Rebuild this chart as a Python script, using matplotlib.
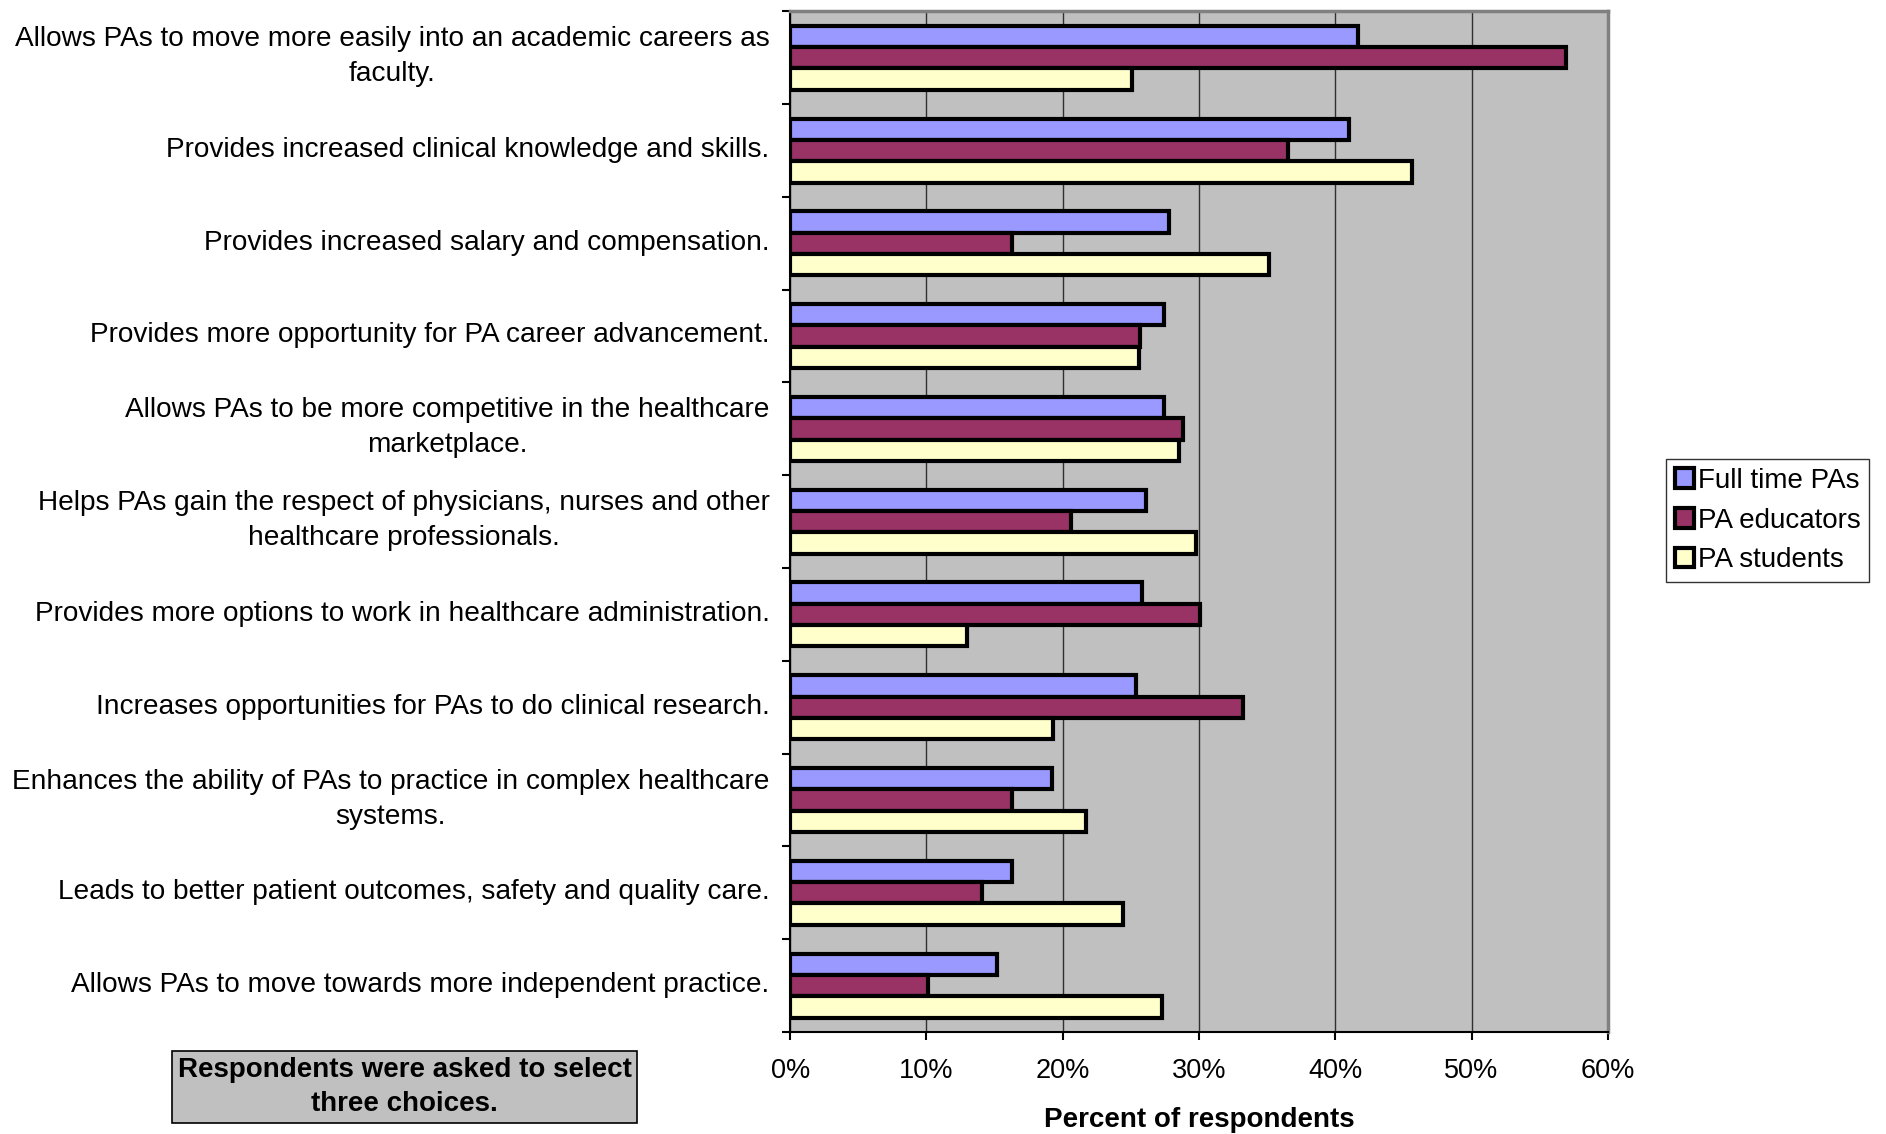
"""
plot.py

Perceived benefits of a doctoral degree for PAs, by respondent group.
Horizontal grouped bar chart in the old Excel style, saved to out.png.
"""

import matplotlib
matplotlib.use("Agg")
import matplotlib.pyplot as plt
import matplotlib.transforms as mtransforms
import numpy as np

OUT_PATH = "out.png"

# ---------------------------------------------------------------------------
# Data (fractions of respondents)
# ---------------------------------------------------------------------------

categories = [
    "Allows PAs to move more easily into an academic careers as\nfaculty.",
    "Provides increased clinical knowledge and skills.",
    "Provides increased salary and compensation.",
    "Provides more opportunity for PA career advancement.",
    "Allows PAs to be more competitive in the healthcare\nmarketplace.",
    "Helps PAs gain the respect of physicians, nurses and other\nhealthcare professionals.",
    "Provides more options to work in healthcare administration.",
    "Increases opportunities for PAs to do clinical research.",
    "Enhances the ability of PAs to practice in complex healthcare\nsystems.",
    "Leads to better patient outcomes, safety and quality care.",
    "Allows PAs to move towards more independent practice.",
]

full_time_pas = [0.417, 0.410, 0.278, 0.274, 0.274, 0.261, 0.258, 0.254, 0.192, 0.163, 0.152]
pa_educators = [0.569, 0.365, 0.163, 0.257, 0.288, 0.206, 0.301, 0.332, 0.163, 0.141, 0.101]
pa_students = [0.251, 0.456, 0.351, 0.256, 0.285, 0.298, 0.130, 0.193, 0.217, 0.244, 0.273]

series_names = ["Full time PAs", "PA educators", "PA students"]
x_ticks = [0.0, 0.1, 0.2, 0.3, 0.4, 0.5, 0.6]
x_tick_labels = ["0%", "10%", "20%", "30%", "40%", "50%", "60%"]

COLORS = ["#9999FF", "#993366", "#FFFFCC"]
PLOT_BG = "#C0C0C0"
FONT = ["Liberation Sans", "DejaVu Sans"]

# ---------------------------------------------------------------------------
# Figure
# ---------------------------------------------------------------------------

plt.rcParams["font.family"] = FONT

fig = plt.figure(figsize=(18.86, 11.34), dpi=100)
ax = fig.add_axes([0.419, 0.090, 0.4335, 0.900])
ax.set_facecolor(PLOT_BG)

y = np.arange(len(categories))
bar_h = 0.23
all_series = [full_time_pas, pa_educators, pa_students]
for k, (vals, name, col) in enumerate(zip(all_series, series_names, COLORS)):
    ax.barh(y + (k - 1) * bar_h, vals, height=bar_h, color=col,
            edgecolor="black", linewidth=3.0, label=name, zorder=3)

ax.set_xlim(0, 0.6)
ax.set_ylim(len(categories) - 0.5, -0.5)

# vertical gridlines
ax.set_xticks(x_ticks)
ax.set_xticklabels(x_tick_labels, fontsize=19.5)
ax.xaxis.grid(True, color="#303030", linewidth=1.0, zorder=1)
ax.tick_params(axis="x", direction="out", length=6, width=1.5, pad=13)

# category labels at centres, tick marks at category boundaries
ax.set_yticks(y)
ax.set_yticklabels(categories, fontsize=20.2, multialignment="center", linespacing=1.45)
ax.tick_params(axis="y", which="major", length=0, pad=15)
ax.set_yticks(np.arange(len(categories) + 1) - 0.5, minor=True)
ax.tick_params(axis="y", which="minor", direction="out", length=6, width=1.5)

# nudge labels up a little (wrapped ones more), as in the original
for label in ax.get_yticklabels():
    n_lines = label.get_text().count("\n") + 1
    dy = (3.6 + 4.8 * (n_lines - 1)) / 100.0
    offset = mtransforms.ScaledTranslation(0, dy, fig.dpi_scale_trans)
    label.set_transform(label.get_transform() + offset)

for side in ("left", "bottom"):
    ax.spines[side].set_color("black")
    ax.spines[side].set_linewidth(1.5)
for side in ("top", "right"):
    ax.spines[side].set_color("#808080")
    ax.spines[side].set_linewidth(2.5)

ax.set_xlabel("Percent of respondents", fontsize=20, fontweight="bold", labelpad=16)

leg = fig.legend(loc="center left", bbox_to_anchor=(0.8835, 0.541), fontsize=20,
                 frameon=True, fancybox=False, edgecolor="black",
                 handlelength=0.7, handleheight=0.7, handletextpad=0.15,
                 borderpad=0.3, labelspacing=0.5, borderaxespad=0)
leg.get_frame().set_linewidth(1.0)

fig.text(0.2145, 0.0414, "Respondents were asked to select\nthree choices.",
         fontsize=20, fontweight="bold", ha="center", va="center", linespacing=1.4,
         bbox=dict(boxstyle="square,pad=0.2", facecolor=PLOT_BG,
                   edgecolor="black", linewidth=1.2))

fig.savefig(OUT_PATH, dpi=100)
